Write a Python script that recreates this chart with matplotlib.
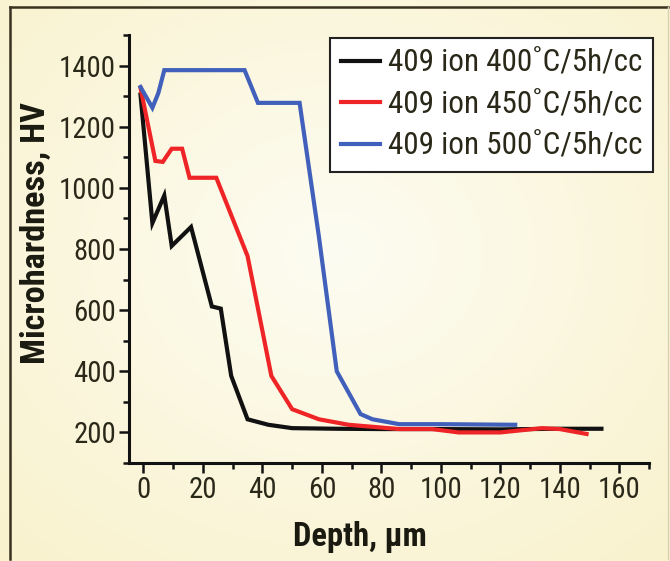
import numpy as np
import matplotlib
matplotlib.use("Agg")
import matplotlib.pyplot as plt
from matplotlib.ticker import MultipleLocator
from matplotlib import font_manager

# ---- data ----
depth_400 = [-1, 3, 7, 9.5, 16, 23, 26, 29.5, 35, 42, 50, 65, 80, 100, 120, 140, 154]
hv_400 = [1305, 885, 975, 810, 872, 612, 605, 385, 243, 225, 214, 212, 211, 211, 210, 212, 212]

depth_450 = [-1, 4, 6.5, 9.5, 13, 15.5, 24.5, 35, 43, 50, 59, 69, 86, 97, 106, 120, 125, 134, 140, 149]
hv_450 = [1327, 1088, 1085, 1128, 1128, 1033, 1033, 777, 385, 276, 243, 225, 211, 211, 200, 200, 205, 214, 211, 195]

depth_500 = [-1, 3, 5, 7, 34, 38.5, 52.5, 59, 65, 73, 77, 86, 100, 125]
hv_500 = [1330, 1262, 1310, 1385, 1385, 1278, 1278, 840, 400, 260, 243, 227, 227, 225]

labels = ["409 ion 400\u02daC/5h/cc", "409 ion 450\u02daC/5h/cc", "409 ion 500\u02daC/5h/cc"]
colors = ["#111111", "#EE2426", "#4060BC"]

# look for an installed condensed / narrow sans face
cands = []
for f in font_manager.fontManager.ttflist:
    nm = f.name
    st = str(f.stretch)
    if ('Narrow' in nm or 'Condensed' in nm or st in ('condensed', 'semi-condensed')) \
            and 'Serif' not in nm and 'Mono' not in nm:
        cands.append(f)
condensed = len(cands) > 0
if condensed:
    pref = ['Liberation Sans Narrow', 'Roboto Condensed', 'DejaVu Sans']
    cands.sort(key=lambda f: pref.index(f.name) if f.name in pref else 99)
    fam = cands[0].name
    plt.rcParams['font.family'] = [fam, 'DejaVu Sans']
    plt.rcParams['font.stretch'] = cands[0].stretch
    scale = 1.12
else:
    plt.rcParams['font.family'] = ['Liberation Sans', 'DejaVu Sans']
    scale = 1.0

fig = plt.figure(figsize=(6.7, 5.61), dpi=100)
fig.patch.set_facecolor("#FAF5D6")

# background gradient
bg = fig.add_axes([0, 0, 1, 1], zorder=-10)
yy, xx = np.mgrid[0:1:200j, 0:1:240j]
d = np.sqrt(((xx - 0.5) / 0.75) ** 2 + ((yy - 0.55) / 0.75) ** 2)
d = np.clip(d, 0, 1)
c_in = np.array([253, 252, 242]) / 255.0
c_out = np.array([249, 242, 205]) / 255.0
img = c_in[None, None, :] * (1 - d[..., None]) + c_out[None, None, :] * d[..., None]
bg.imshow(img, extent=[0, 1, 0, 1], aspect='auto', origin='lower')
bg.set_axis_off()
bg.plot([10 / 670, 10 / 670], [0.003, 1 - 7 / 561], color="#3a3020", lw=1.8)
bg.plot([10 / 670, 0.997], [1 - 7 / 561, 1 - 7 / 561], color="#3a3020", lw=1.8)
bg.plot([0.997, 0.997], [0.003, 1 - 7 / 561], color="#d8d0b0", lw=1.0)
bg.set_xlim(0, 1)
bg.set_ylim(0, 1)

ax = fig.add_axes([128.6 / 670, 1 - 463 / 561, (649 - 128.6) / 670, (463 - 35) / 561])
ax.patch.set_alpha(0)

for x, y, c, l in zip([depth_400, depth_450, depth_500], [hv_400, hv_450, hv_500], colors, labels):
    ax.plot(x, y, color=c, lw=3.0, label=l, solid_joinstyle='miter')

ax.set_xlim(-5, 170)
ax.set_ylim(100, 1500)
ax.xaxis.set_minor_locator(MultipleLocator(10))
ax.yaxis.set_minor_locator(MultipleLocator(100))
ax.set_yticks([200, 400, 600, 800, 1000, 1200, 1400])
ax.set_xticks([0, 20, 40, 60, 80, 100, 120, 140, 160])

for s in ['top', 'right']:
    ax.spines[s].set_visible(False)
for s in ['left', 'bottom']:
    ax.spines[s].set_linewidth(2.2)
    ax.spines[s].set_color("#111111")

ax.tick_params(which='major', direction='out', length=7, width=1.8, color="#111111",
               labelsize=18.5 * scale, labelcolor="#2a2818", pad=2)
ax.tick_params(which='minor', direction='out', length=4, width=1.8, color="#111111")

ax.set_xlabel("Depth, \u00b5m", fontsize=21 * scale, fontweight='bold', color="#1a1a10")
ax.set_ylabel("Microhardness, HV", fontsize=22 * scale, fontweight='bold', color="#1a1a10")
ax.xaxis.set_label_coords((360 - 128.6) / (649 - 128.6), -(537 - 463) / (463 - 35))
ax.yaxis.set_label_coords(-(128.6 - 36) / (649 - 128.6), (463 - 233) / (463 - 35))
ax.xaxis.label.set_va('center')
ax.yaxis.label.set_va('center')

leg = ax.legend(loc='upper right', bbox_to_anchor=(1.008, 0.993), borderaxespad=0,
                fontsize=20 * scale, handlelength=1.25, handletextpad=0.25, labelspacing=0.4,
                borderpad=0.35, fancybox=False, frameon=True)
leg.get_frame().set_edgecolor("#222222")
leg.get_frame().set_linewidth(1.5)
leg.get_frame().set_facecolor("white")
leg.get_frame().set_alpha(1)
for t in leg.get_texts():
    t.set_color("#2a2818")

fig.savefig("out.png", dpi=100, facecolor=fig.get_facecolor())
